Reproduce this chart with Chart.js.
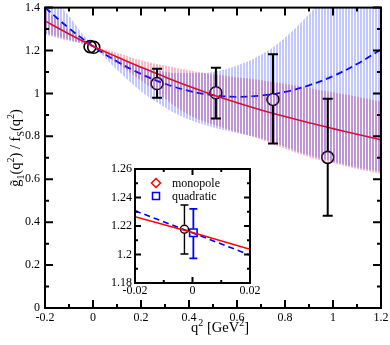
<!DOCTYPE html>
<html>
<head>
<meta charset="utf-8">
<script src="https://cdn.jsdelivr.net/npm/chart.js@4.4.1/dist/chart.umd.min.js"></script>
<style>
  html, body { margin: 0; padding: 0; background: #fff; }
  #wrap { position: relative; width: 390px; height: 345px; }
  #main { position: absolute; left: 0; top: 0; }
  #inset { position: absolute; left: 95px; top: 160px; }
</style>
</head>
<body>
<div id="wrap">
  <canvas id="main" width="390" height="345"></canvas>
  <canvas id="inset" width="170" height="140"></canvas>
</div>
<script>
// ---- data ----
const qGrid = [-0.2, -0.1, 0, 0.1, 0.2, 0.3, 0.4, 0.5, 0.6, 0.7, 0.8, 0.9, 1.0, 1.1, 1.2];
const monoFit   = [1.338, 1.277, 1.220, 1.170, 1.122, 1.077, 1.033, 0.993, 0.957, 0.923, 0.892, 0.863, 0.836, 0.810, 0.784];
const monoUpper = [1.390, 1.300, 1.226, 1.190, 1.155, 1.130, 1.108, 1.090, 1.075, 1.062, 1.045, 1.025, 1.005, 0.985, 0.962];
const monoLower = [1.282, 1.250, 1.213, 1.140, 1.060, 0.975, 0.900, 0.855, 0.820, 0.785, 0.742, 0.703, 0.675, 0.648, 0.625];
const quadFit   = [1.400, 1.304, 1.220, 1.149, 1.091, 1.045, 1.012, 0.992, 0.984, 0.990, 1.007, 1.038, 1.081, 1.137, 1.205];
const quadUpper = [1.500, 1.360, 1.228, 1.170, 1.125, 1.100, 1.095, 1.100, 1.130, 1.180, 1.260, 1.370, 1.500, 1.640, 1.780];
const quadLower = [1.275, 1.245, 1.212, 1.110, 1.010, 0.935, 0.878, 0.842, 0.815, 0.790, 0.752, 0.712, 0.682, 0.655, 0.635];

// lattice points
const ptQ   = [-0.012, 0.003, 0.267, 0.512, 0.750, 0.978];
const ptVal = [1.218, 1.215, 1.046, 1.003, 0.972, 0.702];
const ptLo  = [1.208, 1.205, 0.980, 0.883, 0.767, 0.430];
const ptHi  = [1.228, 1.226, 1.115, 1.120, 1.183, 0.975];

// main axes ticks
const xMajor = [-0.2, 0, 0.2, 0.4, 0.6, 0.8, 1.0, 1.2];
const xMinor = [-0.1, 0.1, 0.3, 0.5, 0.7, 0.9, 1.1];
const xTickLabels = ['-0.2', '0', '0.2', '0.4', '0.6', '0.8', '1', '1.2'];
const yMajor = [0, 0.2, 0.4, 0.6, 0.8, 1.0, 1.2, 1.4];
const yMinor = [0.1, 0.3, 0.5, 0.7, 0.9, 1.1, 1.3];
const yTickLabels = ['0', '0.2', '0.4', '0.6', '0.8', '1', '1.2', '1.4'];

// inset
const insQ = [-0.02, 0, 0.02];
const insMono = [1.2265, 1.2155, 1.2036];
const insQuad = [1.2307, 1.2152, 1.1996];
const insPtQ = [-0.0028];
const insPtVal = [1.2177];
const insPtLo = [1.2003];
const insPtHi = [1.2347];
const insSqQ = [0.0003];
const insSqVal = [1.2153];
const insSqLo = [1.1973];
const insSqHi = [1.2320];
const insXMajor = [-0.02, 0, 0.02];
const insXMinor = [-0.01, 0.01];
const insXLabels = ['-0.02', '0', '0.02'];
const insYMajor = [1.18, 1.20, 1.22, 1.24, 1.26];
const insYMinor = [1.19, 1.21, 1.23, 1.25];
const insYLabels = ['1.18', '1.2', '1.22', '1.24', '1.26'];

const SERIF = "'Liberation Serif', 'DejaVu Serif', 'Times New Roman', serif";

function pts(xs, ys) { return xs.map((x, i) => ({ x: x, y: ys[i] })); }

function hatch(color) {
    const c = document.createElement('canvas');
    c.width = 3; c.height = 4;
    const g = c.getContext('2d');
    g.fillStyle = color;
    g.fillRect(0, 0, 2, 4);
    return g.createPattern(c, 'repeat');
}

// frame + inward ticks on all four sides
function drawFrame(chart, xMaj, xMin, yMaj, yMin, majLen, minLen) {
    const ctx = chart.ctx, a = chart.chartArea;
    const sx = chart.scales.x, sy = chart.scales.y;
    ctx.save();
    ctx.strokeStyle = '#000';
    ctx.lineCap = 'butt';
    function tick(list, len, lw) {
        ctx.lineWidth = lw;
        ctx.beginPath();
        list.forEach(v => {
            const p = sx.getPixelForValue(v);
            ctx.moveTo(p, a.bottom); ctx.lineTo(p, a.bottom - len);
            ctx.moveTo(p, a.top); ctx.lineTo(p, a.top + len);
        });
        ctx.stroke();
    }
    function ytick(list, len, lw) {
        ctx.lineWidth = lw;
        ctx.beginPath();
        list.forEach(v => {
            const p = sy.getPixelForValue(v);
            ctx.moveTo(a.left, p); ctx.lineTo(a.left + len, p);
            ctx.moveTo(a.right, p); ctx.lineTo(a.right - len, p);
        });
        ctx.stroke();
    }
    tick(xMaj, majLen, 2); tick(xMin, minLen, 2);
    ytick(yMaj, majLen, 2); ytick(yMin, minLen, 2);
    ctx.lineWidth = 2;
    ctx.strokeRect(a.left, a.top, a.right - a.left, a.bottom - a.top);
    ctx.restore();
}

function drawErrors(chart, xs, ys, lo, hi, color, capHalf, gap, lw) {
    const ctx = chart.ctx;
    const sx = chart.scales.x, sy = chart.scales.y;
    ctx.save();
    ctx.strokeStyle = color;
    ctx.lineWidth = lw;
    ctx.beginPath();
    xs.forEach((x, i) => {
        const px = sx.getPixelForValue(x);
        const pc = sy.getPixelForValue(ys[i]);
        const pt = sy.getPixelForValue(hi[i]);
        const pb = sy.getPixelForValue(lo[i]);
        if (pc - pt > gap) {
            ctx.moveTo(px, pt); ctx.lineTo(px, pc - gap);
            ctx.moveTo(px - capHalf, pt); ctx.lineTo(px + capHalf, pt);
        }
        if (pb - pc > gap) {
            ctx.moveTo(px, pc + gap); ctx.lineTo(px, pb);
            ctx.moveTo(px - capHalf, pb); ctx.lineTo(px + capHalf, pb);
        }
    });
    ctx.stroke();
    ctx.restore();
}

// text with sub/superscripts
function drawRich(ctx, parts, size, smallSize) {
    let total = 0;
    parts.forEach(p => {
        ctx.font = (p[1] === 'n' ? size : smallSize) + 'px ' + SERIF;
        p.w = ctx.measureText(p[0]).width;
        total += p.w;
    });
    let cx = -total / 2;
    parts.forEach(p => {
        ctx.font = (p[1] === 'n' ? size : smallSize) + 'px ' + SERIF;
        const dy = p[1] === 'b' ? 4 : (p[1] === 'p' ? -6.5 : 0);
        ctx.fillText(p[0], cx, dy);
        cx += p.w;
    });
}

const mainDeco = {
    id: 'mainDeco',
    afterDatasetsDraw(chart) {
        drawErrors(chart, ptQ, ptVal, ptLo, ptHi, '#000', 5, 6, 2);
    },
    afterDraw(chart) {
        drawFrame(chart, xMajor, xMinor, yMajor, yMinor, 8, 4);
        const ctx = chart.ctx;
        ctx.save();
        ctx.fillStyle = '#000';
        ctx.textBaseline = 'alphabetic';
        ctx.translate(220, 332);
        drawRich(ctx, [['q', 'n'], ['2', 'p'], [' [GeV', 'n'], ['2', 'p'], [']', 'n']], 14.5, 10);
        ctx.restore();
        ctx.save();
        ctx.fillStyle = '#000';
        ctx.translate(20, 148);
        ctx.rotate(-Math.PI / 2);
        drawRich(ctx, [['g\u0303', 'n'], ['1', 'b'], ['(q', 'n'], ['2', 'p'], [') / f', 'n'],
                       ['S', 'b'], ['(q', 'n'], ['2', 'p'], [')', 'n']], 14.5, 10);
        ctx.restore();
    }
};

const blueHatch = hatch('rgba(30, 50, 255, 0.27)');
const redHatch = hatch('rgba(240, 30, 70, 0.30)');

new Chart(document.getElementById('main'), {
    type: 'line',
    data: {
        datasets: [
            { data: pts(qGrid, quadUpper), fill: '+1', backgroundColor: blueHatch, borderColor: 'transparent', pointRadius: 0, tension: 0.4 },
            { data: pts(qGrid, quadLower), fill: false, borderColor: 'transparent', pointRadius: 0, tension: 0.4 },
            { data: pts(qGrid, monoUpper), fill: '+1', backgroundColor: redHatch, borderColor: 'transparent', pointRadius: 0, tension: 0.4 },
            { data: pts(qGrid, monoLower), fill: false, borderColor: 'transparent', pointRadius: 0, tension: 0.4 },
            { data: pts(qGrid, monoFit), fill: false, borderColor: '#ff0000', borderWidth: 1.6, pointRadius: 0, tension: 0.4 },
            { data: pts(qGrid, quadFit), fill: false, borderColor: '#0000ff', borderWidth: 1.8, borderDash: [7, 4], pointRadius: 0, tension: 0.4 },
            { data: pts(ptQ, ptVal), showLine: false, pointStyle: 'circle', pointRadius: 6,
              pointBorderColor: '#000', pointBackgroundColor: 'rgba(0,0,0,0)', pointBorderWidth: 1.6 }
        ]
    },
    options: {
        responsive: false,
        devicePixelRatio: 1,
        animation: false,
        events: [],
        layout: { padding: { top: 5, right: 9, left: 0, bottom: 0 } },
        plugins: { legend: { display: false }, tooltip: { enabled: false } },
        scales: {
            x: {
                type: 'linear', min: -0.2, max: 1.2,
                grid: { display: false, drawTicks: false },
                border: { display: false },
                afterBuildTicks: s => { s.ticks = xMajor.map(v => ({ value: v })); },
                afterFit: s => { s.height = 37; s.paddingLeft = 0; s.paddingRight = 0; },
                ticks: { autoSkip: false, maxRotation: 0, padding: 3, color: '#000',
                         font: { family: SERIF, size: 12 },
                         callback: (v, i) => xTickLabels[i] }
            },
            y: {
                type: 'linear', min: 0, max: 1.4,
                grid: { display: false, drawTicks: false },
                border: { display: false },
                afterBuildTicks: s => { s.ticks = yMajor.map(v => ({ value: v })); },
                afterFit: s => { s.width = 45; s.paddingTop = 0; s.paddingBottom = 0; },
                ticks: { padding: 5, color: '#000', font: { family: SERIF, size: 12 },
                         callback: (v, i) => yTickLabels[i] }
            }
        }
    },
    plugins: [mainDeco]
});

const insetDeco = {
    id: 'insetDeco',
    beforeDatasetsDraw(chart) {
        const a = chart.chartArea, ctx = chart.ctx;
        ctx.save();
        ctx.fillStyle = '#fff';
        ctx.fillRect(a.left, a.top, a.right - a.left, a.bottom - a.top);
        ctx.restore();
    },
    afterDatasetsDraw(chart) {
        drawErrors(chart, insPtQ, insPtVal, insPtLo, insPtHi, '#000', 4, 4.5, 1.4);
        drawErrors(chart, insSqQ, insSqVal, insSqLo, insSqHi, '#0000ff', 4, 4, 1.8);
    },
    afterDraw(chart) {
        drawFrame(chart, insXMajor, insXMinor, insYMajor, insYMinor, 6, 3);
        const ctx = chart.ctx;
        ctx.save();
        ctx.lineWidth = 1.5;
        // diamond
        ctx.strokeStyle = '#ff0000';
        ctx.beginPath();
        ctx.moveTo(61, 18.5); ctx.lineTo(65.5, 23); ctx.lineTo(61, 27.5); ctx.lineTo(56.5, 23); ctx.closePath();
        ctx.stroke();
        // square
        ctx.strokeStyle = '#0000ff';
        ctx.strokeRect(57.5, 32.5, 7, 7);
        ctx.fillStyle = '#000';
        ctx.font = '12px ' + SERIF;
        ctx.textBaseline = 'alphabetic';
        ctx.fillText('monopole', 77, 27);
        ctx.fillText('quadratic', 77, 40);
        ctx.restore();
    }
};

new Chart(document.getElementById('inset'), {
    type: 'line',
    data: {
        datasets: [
            { data: pts(insQ, insMono), fill: false, borderColor: '#ff0000', borderWidth: 1.5, pointRadius: 0 },
            { data: pts(insQ, insQuad), fill: false, borderColor: '#0000ff', borderWidth: 1.6, borderDash: [6, 4], pointRadius: 0 },
            { data: pts(insPtQ, insPtVal), showLine: false, pointStyle: 'circle', pointRadius: 4,
              pointBorderColor: '#000', pointBackgroundColor: 'rgba(0,0,0,0)', pointBorderWidth: 1.4 },
            { data: pts(insSqQ, insSqVal), showLine: false, pointStyle: 'rect', pointRadius: 5.3,
              pointBorderColor: '#0000ff', pointBackgroundColor: 'rgba(0,0,0,0)', pointBorderWidth: 1.6 }
        ]
    },
    options: {
        responsive: false,
        devicePixelRatio: 1,
        animation: false,
        events: [],
        layout: { padding: { top: 9, right: 15, left: 0, bottom: 0 } },
        plugins: { legend: { display: false }, tooltip: { enabled: false } },
        scales: {
            x: {
                type: 'linear', min: -0.02, max: 0.02,
                grid: { display: false, drawTicks: false },
                border: { display: false },
                afterBuildTicks: s => { s.ticks = insXMajor.map(v => ({ value: v })); },
                afterFit: s => { s.height = 17; s.paddingLeft = 0; s.paddingRight = 0; },
                ticks: { autoSkip: false, maxRotation: 0, padding: 1, color: '#000',
                         font: { family: SERIF, size: 12 },
                         callback: (v, i) => insXLabels[i] }
            },
            y: {
                type: 'linear', min: 1.18, max: 1.26,
                grid: { display: false, drawTicks: false },
                border: { display: false },
                afterBuildTicks: s => { s.ticks = insYMajor.map(v => ({ value: v })); },
                afterFit: s => { s.width = 40; s.paddingTop = 0; s.paddingBottom = 0; },
                ticks: { padding: 3, color: '#000', font: { family: SERIF, size: 12 },
                         callback: (v, i) => insYLabels[i] }
            }
        }
    },
    plugins: [insetDeco]
});
</script>
</body>
</html>
